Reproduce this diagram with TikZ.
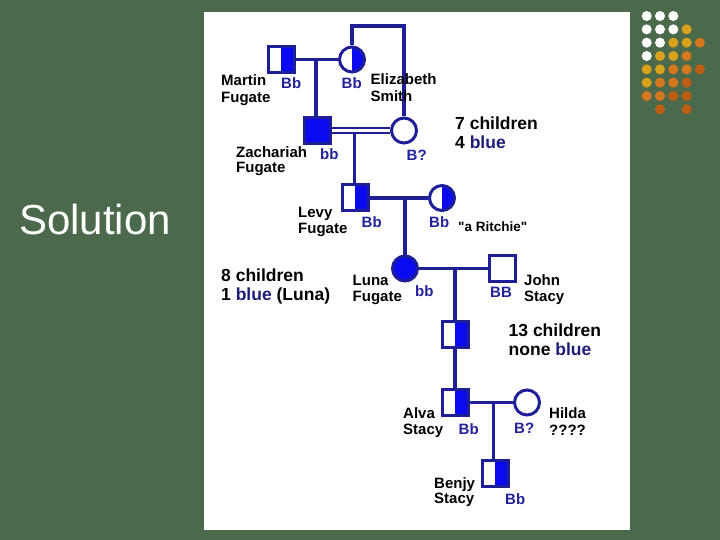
\documentclass[tikz,border=0pt]{standalone}
\usepackage{fontspec}
\setmainfont{Liberation Sans}
\newfontfamily\qfont[Ligatures=ResetAll]{Liberation Sans}
\definecolor{bg}{HTML}{4B6A4C}
\definecolor{navy}{HTML}{1E1E96}
\definecolor{bluefill}{HTML}{0A0AF0}
\definecolor{gtblue}{HTML}{22229A}
\definecolor{wordblue}{HTML}{1E1E78}
\definecolor{dgold}{HTML}{D9A21B}
\definecolor{dorange}{HTML}{D4771E}
\definecolor{ddark}{HTML}{BE5E14}
\begin{document}
\begin{tikzpicture}[x=1pt,y=-1pt,
  sq/.style={rectangle, draw=navy, line width=3pt, minimum size=26pt, inner sep=0pt},
  circ/.style={circle, draw=navy, line width=3pt, minimum size=25pt, inner sep=0pt},
  half/.style={path picture={\fill[bluefill] (path picture bounding box.north) rectangle (path picture bounding box.south east);}},
  full/.style={fill=bluefill},
  link/.style={draw=navy, line width=3.2pt},
  nm/.style={anchor=base west, inner sep=0pt, font=\bfseries\fontsize{15}{17}\selectfont, text=black},
  gt/.style={anchor=base west, inner sep=0pt, font=\bfseries\fontsize{15}{17}\selectfont, text=gtblue},
  cnt/.style={anchor=base west, inner sep=0pt, font=\bfseries\fontsize{17.5}{20}\selectfont, text=black},
  dot/.style={circle, inner sep=0pt, minimum size=10pt}
]
\useasboundingbox (0,0) rectangle (720,540);
\fill[bg] (0,0) rectangle (720,540);
\fill[white] (204,12) rectangle (630,530);

% title
\node[anchor=base west, inner sep=0pt, text=white, font=\fontsize{42}{48}\selectfont] (title) at (19,235) {Solution};

% dot grid
\foreach \r/\list in {1/{white,white,white,none,none},
                      2/{white,white,white,dgold,none},
                      3/{white,white,dgold,dgold,dorange},
                      4/{white,dgold,dgold,dorange,none},
                      5/{dgold,dgold,dorange,dorange,ddark},
                      6/{dgold,dorange,dorange,ddark,none},
                      7/{dorange,dorange,ddark,ddark,none},
                      8/{none,ddark,none,ddark,none}}{
  \foreach \c [count=\k] in \list {
    \node[dot, fill=\c] (d\r-\k) at ({633.4+13.3*\k},{2.7+13.33*\r}) {};
  }
}

% individuals
\node[sq, half] (martin) at (281,59.5) {};
\node[circ, half] (eliz) at (352,59.5) {};
\node[sq, full] (zach) at (317,130.5) {};
\node[circ] (bq) at (404,130.5) {};
\node[sq, half] (levy) at (355,198) {};
\node[circ, half] (ritchie) at (442,198) {};
\node[circ, full] (luna) at (405,268.5) {};
\node[sq] (john) at (502,268.5) {};
\node[sq, half] (child) at (455,334) {};
\node[sq, half] (alva) at (455,402.5) {};
\node[circ] (hilda) at (527,402.5) {};
\node[sq, half] (benjy) at (495,473) {};

% helper coordinates
\coordinate (top) at (378,26);
\coordinate (m1) at (316,59.5);
\coordinate (m2) at (354.5,133);
\coordinate (m3) at (405,198);
\coordinate (m4) at (455,268.5);
\coordinate (m5) at (493.5,402.5);

% connectors
\draw[link] (martin.east) -- (eliz.west);
\draw[link] (m1) -- (zach.north -| m1);
\draw[link] (eliz.north) |- (top) -| (bq.north);
\draw[link, line width=2.7pt] ([yshift=2.6pt]zach.east) -- ([yshift=2.6pt,xshift=0.4pt]bq.west);
\draw[link, line width=2.7pt] ([yshift=-2.6pt]zach.east) -- ([yshift=-2.6pt,xshift=0.4pt]bq.west);
\draw[link] (m2) -- (levy.north -| m2);
\draw[link] (levy.east) -- (ritchie.west);
\draw[link] (m3) -- (luna.north);
\draw[link] (luna.east) -- (john.west);
\draw[link] (m4) -- (child.north);
\draw[link] (child.south) -- (alva.north);
\draw[link] (alva.east) -- (hilda.west);
\draw[link] (m5) -- (benjy.north -| m5);

% names
\node[nm] (n1a) at (221,86) {Martin};
\node[nm] (n1b) at (221,103) {Fugate};
\node[nm] (n2a) at (370.5,85) {Elizabeth};
\node[nm] (n2b) at (370.5,102) {Smith};
\node[nm] (n3a) at (236,158) {Zachariah};
\node[nm] (n3b) at (236,172.5) {Fugate};
\node[nm] (n4a) at (298,218) {Levy};
\node[nm] (n4b) at (298,233.5) {Fugate};
\node[nm, font=\qfont\bfseries\fontsize{13.5}{16}\selectfont] (n5) at (458,232) {"a Ritchie"};
\node[nm] (n6a) at (352.5,285.5) {Luna};
\node[nm] (n6b) at (352.5,301.5) {Fugate};
\node[nm] (n7a) at (524,285) {John};
\node[nm] (n7b) at (524,301.5) {Stacy};
\node[nm] (n8a) at (403,418) {Alva};
\node[nm] (n8b) at (403,434.5) {Stacy};
\node[nm] (n9a) at (549,418.5) {Hilda};
\node[nm] (n9b) at (549,435.5) {????};
\node[nm] (n10a) at (434,488.5) {Benjy};
\node[nm] (n10b) at (434,503.5) {Stacy};

% genotypes
\node[gt] (g1) at (281,88.5) {Bb};
\node[gt] (g2) at (341.5,88.5) {Bb};
\node[gt] (g3) at (320,160) {bb};
\node[gt] (g4) at (406.5,161) {B?};
\node[gt] (g5) at (361.5,227.5) {Bb};
\node[gt] (g6) at (429,227) {Bb};
\node[gt] (g7) at (415,296) {bb};
\node[gt] (g8) at (490,297.5) {BB};
\node[gt] (g9) at (458.5,434.5) {Bb};
\node[gt] (g10) at (514,433.5) {B?};
\node[gt] (g11) at (505,504) {Bb};

% counts
\node[cnt] (c1a) at (455,129.5) {7 children};
\node[cnt] (c1b) at (455,149) {4 \textcolor{wordblue}{blue}};
\node[cnt] (c2a) at (221,281.5) {8 children};
\node[cnt] (c2b) at (221,300) {1 \textcolor{wordblue}{blue} (Luna)};
\node[cnt] (c3a) at (508.5,336.5) {13 children};
\node[cnt] (c3b) at (508.5,355) {none \textcolor{wordblue}{blue}};
\end{tikzpicture}
\end{document}
